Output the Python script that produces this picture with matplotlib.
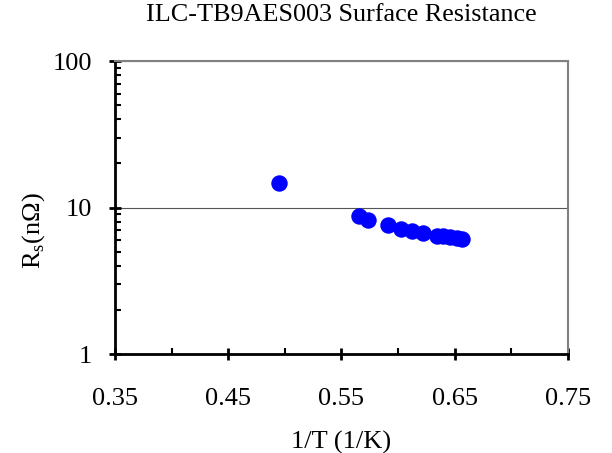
import matplotlib
matplotlib.use('Agg')
import matplotlib.pyplot as plt
from matplotlib.ticker import LogLocator, NullFormatter, FixedLocator

plt.rcParams['font.family'] = ['Liberation Serif', 'DejaVu Serif']
plt.rcParams['mathtext.fontset'] = 'custom'
plt.rcParams['mathtext.rm'] = 'Liberation Serif'

inv_temp = [0.4948, 0.5655, 0.5737, 0.5913, 0.6023, 0.6120, 0.6223, 0.6340,
            0.6400, 0.6460, 0.6520, 0.6561]
rs_nohm = [14.7, 8.75, 8.25, 7.55, 7.15, 6.92, 6.68, 6.42, 6.35, 6.25, 6.15, 6.07]

fig = plt.figure(figsize=(6.12, 4.53), dpi=100)
ax = fig.add_axes([0.1879, 0.2185, 0.7402, 0.6468])

ax.scatter(inv_temp, rs_nohm, s=140, color='#0000FF', zorder=3, linewidths=0)

ax.set_yscale('log')
ax.set_xlim(0.35, 0.75)
ax.set_ylim(1, 100)

ax.xaxis.set_major_locator(FixedLocator([0.35, 0.45, 0.55, 0.65, 0.75]))
ax.xaxis.set_minor_locator(FixedLocator([0.40, 0.50, 0.60, 0.70]))
ax.set_xticklabels(['0.35', '0.45', '0.55', '0.65', '0.75'])
ax.yaxis.set_major_locator(FixedLocator([1, 10, 100]))
ax.set_yticklabels(['1', '10', '100'])
ax.yaxis.set_minor_locator(LogLocator(base=10, subs=range(2, 10)))
ax.yaxis.set_minor_formatter(NullFormatter())

ax.yaxis.grid(True, which='major', color='#555555', linewidth=0.8)
ax.set_axisbelow(True)

for side in ['left', 'bottom']:
    ax.spines[side].set_linewidth(2)
    ax.spines[side].set_color('black')
for side in ['top', 'right']:
    ax.spines[side].set_linewidth(1.5)
    ax.spines[side].set_color('#808080')

ax.tick_params(axis='both', which='major', direction='inout', length=9, width=2,
               labelsize=19, pad=12)
ax.tick_params(axis='both', which='minor', direction='in', length=4, width=1.5)
ax.tick_params(axis='x', which='major', pad=20)

ax.set_xlabel('1/T (1/K)', fontsize=19, labelpad=15)
ax.set_ylabel(r'R$_\mathregular{s}$(n$\Omega$)', fontsize=19)
ax.yaxis.set_label_coords(-0.150, 0.42)
ax.set_title('ILC-TB9AES003 Surface Resistance', fontsize=18.8, pad=29)

fig.savefig('out.png', dpi=100)
